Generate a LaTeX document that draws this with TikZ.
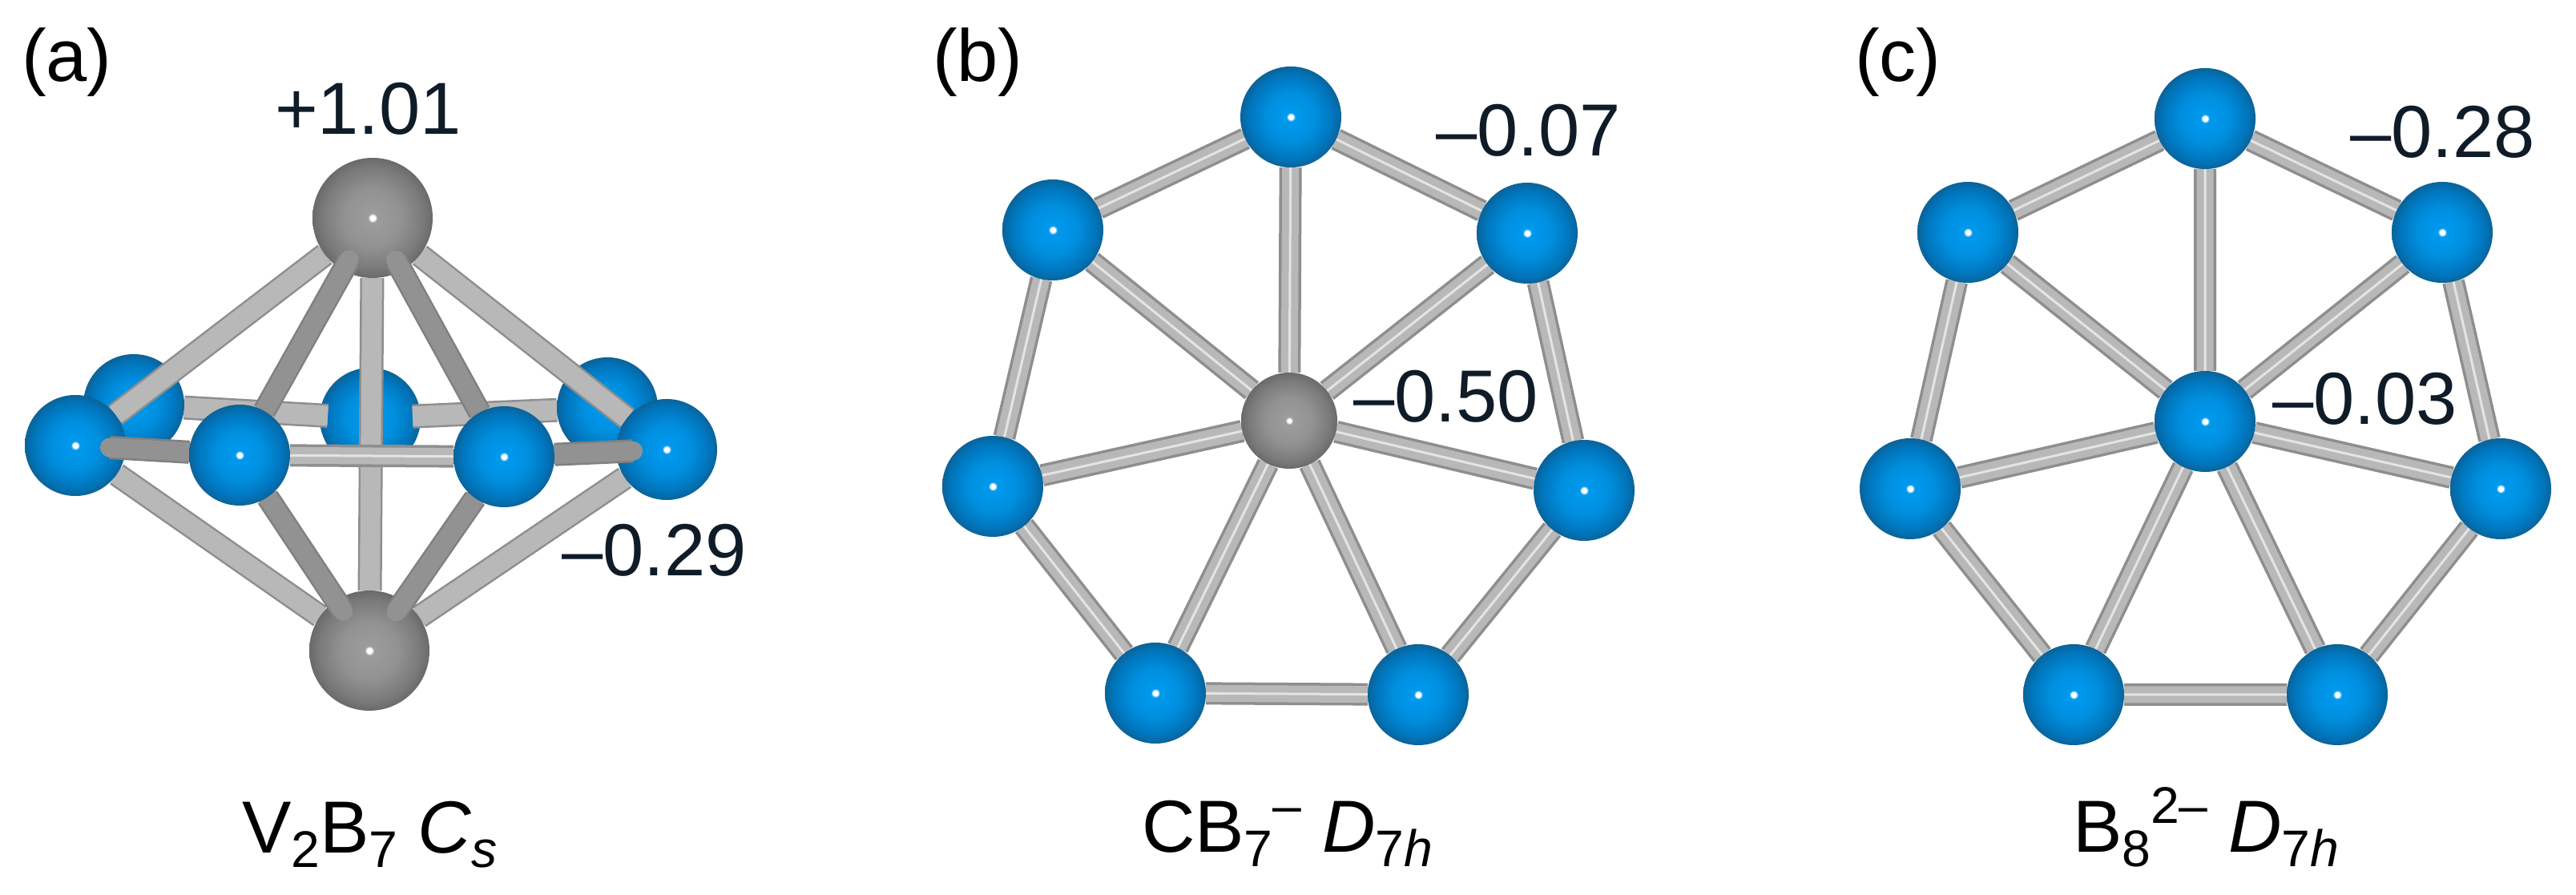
\documentclass[tikz,border=0pt]{standalone}
\usepackage{fontspec}
\setmainfont{Liberation Sans}
\usepackage{tikz}

\definecolor{boronlit}{HTML}{0099EE}
\definecolor{boronmid}{HTML}{008FDF}
\definecolor{boronrim}{HTML}{0075BC}
\definecolor{boronedge}{HTML}{0B6399}
\definecolor{carbonlit}{HTML}{9C9C9C}
\definecolor{carbonmid}{HTML}{929292}
\definecolor{carbonrim}{HTML}{7A7A7A}
\definecolor{carbonedge}{HTML}{6A6A6A}
\definecolor{bondedge}{HTML}{8E8E8E}
\definecolor{bondmid}{HTML}{B8B8B8}
\definecolor{bondshine}{HTML}{E4E4E4}
\definecolor{roddark}{HTML}{929292}
\definecolor{rodedge}{HTML}{808080}
\definecolor{chargeink}{HTML}{0F1C28}

\pgfdeclareradialshading{boronball}{\pgfpoint{0bp}{0bp}}{color(0bp)=(white); color(1.2bp)=(white); color(2.2bp)=(boronlit); color(12bp)=(boronmid); color(21bp)=(boronrim); color(25bp)=(boronedge); color(50bp)=(boronedge)}
\pgfdeclareradialshading{carbonball}{\pgfpoint{0bp}{0bp}}{color(0bp)=(white); color(1bp)=(white); color(2bp)=(carbonlit); color(12bp)=(carbonmid); color(21bp)=(carbonrim); color(25bp)=(carbonedge); color(50bp)=(carbonedge)}

\pgfdeclarelayer{rear}
\pgfdeclarelayer{rearbond}
\pgfdeclarelayer{mid}
\pgfdeclarelayer{midbond}
\pgfdeclarelayer{front}
\pgfdeclarelayer{frontbond}
\pgfsetlayers{rear,rearbond,mid,midbond,front,frontbond,main}

\tikzset{
  boron/.style={circle,inner sep=0pt,outer sep=0pt,minimum size=1.26cm,shade,shading=boronball},
  carbon/.style={circle,inner sep=0pt,outer sep=0pt,minimum size=1.5cm,shade,shading=carbonball},
  bond/.style={line width=.21cm,draw=bondmid,preaction={draw=bondedge,line width=.28cm},postaction={draw=bondshine,line width=.03cm}},
  rodlight/.style={line width=.25cm,draw=bondmid,preaction={draw=bondedge,line width=.3cm}},
  roddeep/.style={line width=.24cm,draw=roddark,line cap=round,preaction={draw=rodedge,line width=.29cm}},
  charge/.style={anchor=base west,inner sep=0pt,outer sep=0pt,text=chargeink,font=\fontsize{26.2}{30}\selectfont},
  caption/.style={anchor=base west,inner sep=0pt,outer sep=0pt,text=black,font=\fontsize{26.2}{30}\selectfont}
}

\newcommand{\lowtxt}[1]{\raisebox{-5.1pt}{\fontsize{18.3}{20}\selectfont #1}}
\newcommand{\hightxt}[1]{\raisebox{10.5pt}{\fontsize{18.3}{20}\selectfont #1}}

\begin{document}
\begin{tikzpicture}
\useasboundingbox (0,0) rectangle (32.15,11.17);

% panel a
\begin{pgfonlayer}{rear}
\node[boron] (a6) at (4.62,5.95) {};
\end{pgfonlayer}
\begin{pgfonlayer}{mid}
\node[boron] (a5) at (1.67,6.12) {};
\node[boron] (a7) at (7.58,6.08) {};
\end{pgfonlayer}
\begin{pgfonlayer}{front}
\node[carbon] (a8) at (4.65,8.45) {};
\node[carbon] (a9) at (4.61,3.05) {};
\node[boron] (a1) at (0.94,5.61) {};
\node[boron] (a4) at (8.32,5.56) {};
\end{pgfonlayer}
\node[boron] (a2) at (2.99,5.49) {};
\node[boron] (a3) at (6.29,5.47) {};

\begin{pgfonlayer}{rearbond}
\draw[rodlight,shorten >=-.1cm] (a5) -- (a6);
\draw[rodlight,shorten >=-.1cm] (a7) -- (a6);
\end{pgfonlayer}
\begin{pgfonlayer}{midbond}
\draw[rodlight] (a8) -- (a9);
\draw[rodlight] (a8) -- (a1) (a8) -- (a4);
\draw[rodlight] (a9) -- (a1) (a9) -- (a4);
\draw[bond] (a2) -- (a3);
\end{pgfonlayer}
\begin{pgfonlayer}{frontbond}
\draw[roddeep,shorten >=-.2cm] (a2) -- (a1);
\draw[roddeep,shorten >=-.21cm] (a3) -- (a4);
\draw[roddeep,shorten <=-.15cm] (a8) -- (a2);
\draw[roddeep,shorten <=-.15cm] (a8) -- (a3);
\draw[roddeep,shorten <=-.16cm] (a9) -- (a2);
\draw[roddeep,shorten <=-.16cm] (a9) -- (a3);
\end{pgfonlayer}

% panel b
\node[boron] (b1) at (16.11,9.71) {};
\node[boron] (b2) at (19.06,8.26) {};
\node[boron] (b3) at (19.77,5.05) {};
\node[boron] (b4) at (17.70,2.50) {};
\node[boron] (b5) at (14.42,2.52) {};
\node[boron] (b6) at (12.39,5.10) {};
\node[boron] (b7) at (13.14,8.30) {};
\node[carbon,minimum size=1.2cm] (b0) at (16.09,5.92) {};

\begin{pgfonlayer}{rear}
\draw[bond] (b1) -- (b2) -- (b3) -- (b4) -- (b5) -- (b6) -- (b7) -- (b1);
\draw[bond] (b0) -- (b1) (b0) -- (b2) (b0) -- (b3) (b0) -- (b4) (b0) -- (b5) (b0) -- (b6) (b0) -- (b7);
\end{pgfonlayer}

% panel c
\node[boron] (c1) at (27.52,9.69) {};
\node[boron] (c2) at (30.48,8.27) {};
\node[boron] (c3) at (31.21,5.07) {};
\node[boron] (c4) at (29.17,2.50) {};
\node[boron] (c5) at (25.88,2.50) {};
\node[boron] (c6) at (23.84,5.07) {};
\node[boron] (c7) at (24.56,8.27) {};
\node[boron] (c0) at (27.52,5.91) {};

\begin{pgfonlayer}{rear}
\draw[bond] (c1) -- (c2) -- (c3) -- (c4) -- (c5) -- (c6) -- (c7) -- (c1);
\draw[bond] (c0) -- (c1) (c0) -- (c2) (c0) -- (c3) (c0) -- (c4) (c0) -- (c5) (c0) -- (c6) (c0) -- (c7);
\end{pgfonlayer}

% charges
\node[charge] (qa1) at (3.43,9.49) {+1.01};
\node[charge] (qa2) at (7.01,3.98) {–0.29};
\node[charge] (qb1) at (17.92,9.22) {–0.07};
\node[charge] (qb2) at (16.89,5.90) {–0.50};
\node[charge] (qc1) at (29.33,9.20) {–0.28};
\node[charge] (qc2) at (28.36,5.87) {–0.03};

% panel letters
\node[caption] (la) at (0.27,10.15) {(a)};
\node[caption] (lb) at (11.64,10.15) {(b)};
\node[caption] (lc) at (23.15,10.15) {(c)};

% captions
\node[caption] (na) at (3.02,0.52) {V\lowtxt{2}B\lowtxt{7} \textit{C}\lowtxt{\textit{s}}};
\node[caption] (nb) at (14.25,0.53) {CB\lowtxt{7}\hightxt{–} \textit{D}\lowtxt{7\textit{h}}};
\node[caption] (nc) at (25.87,0.53) {B\lowtxt{8}\hightxt{2–} \textit{D}\lowtxt{7\textit{h}}};
\end{tikzpicture}
\end{document}
